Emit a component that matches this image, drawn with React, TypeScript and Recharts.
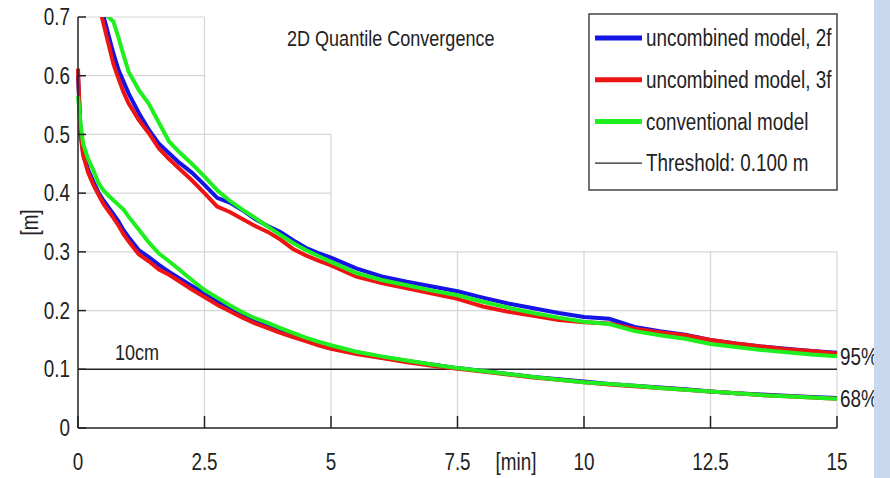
import { LineChart, Line, XAxis, YAxis, ReferenceLine, ReferenceDot, Customized } from "recharts";

const FONT = "'Liberation Sans', Arial, sans-serif";
const NARROW = 0.82; // squeeze Liberation Sans to look like Arial Narrow

// time since start [min]
const minutes = [
  0, 0.05, 0.1, 0.2, 0.3, 0.4, 0.5, 0.6, 0.7, 0.8, 0.9, 1.0,
  1.2, 1.4, 1.6, 1.8, 2.0,
  2.25, 2.5, 2.75, 3.0, 3.25, 3.5, 3.75, 4.0, 4.25, 4.5, 4.75, 5.0,
  5.5, 6.0, 6.5, 7.0, 7.5, 8.0, 8.5, 9.0, 9.5, 10.0, 10.5, 11.0, 11.5, 12.0, 12.5, 13.0, 13.5, 14.0, 14.5, 15.0,
];

// 95% quantile [m]
const blue95 = [
  null, null, null, null, null, null, 0.703, 0.67, 0.638, 0.61, 0.59, 0.57,
  0.537, 0.508, 0.484, 0.468, 0.452,
  0.435, 0.414, 0.392, 0.384, 0.371, 0.356, 0.344, 0.334, 0.32, 0.307, 0.298, 0.29,
  0.272, 0.258, 0.249, 0.241, 0.233, 0.222, 0.212, 0.204, 0.196, 0.189, 0.186, 0.172, 0.165, 0.159, 0.15, 0.144, 0.139, 0.135, 0.131, 0.128,
];
const red95 = [
  null, null, null, null, null, 0.724, 0.69, 0.655, 0.62, 0.595, 0.572, 0.553,
  0.525, 0.502, 0.476, 0.458, 0.442,
  0.422, 0.4, 0.377, 0.368, 0.356, 0.344, 0.334, 0.321, 0.305, 0.294, 0.285, 0.277,
  0.258, 0.247, 0.238, 0.229, 0.22, 0.207, 0.198, 0.191, 0.184, 0.18, 0.178, 0.169, 0.163, 0.158, 0.15, 0.144, 0.139, 0.134, 0.131, 0.127,
];
const green95 = [
  null, null, null, null, null, null, 0.735, 0.7, 0.692, 0.665, 0.635, 0.607,
  0.576, 0.552, 0.52, 0.488, 0.47,
  0.45, 0.428, 0.405, 0.387, 0.372, 0.358, 0.343, 0.329, 0.315, 0.303, 0.293, 0.283,
  0.264, 0.252, 0.243, 0.234, 0.226, 0.215, 0.205, 0.196, 0.188, 0.181, 0.177, 0.165, 0.158, 0.152, 0.143, 0.138, 0.133, 0.129, 0.125, 0.122,
];

// 68% quantile [m]
const blue68 = [
  0.6, 0.505, 0.47, 0.44, 0.42, 0.402, 0.388, 0.376, 0.364, 0.352, 0.337, 0.325,
  0.303, 0.291, 0.278, 0.266, 0.255,
  0.242, 0.229, 0.216, 0.204, 0.193, 0.183, 0.175, 0.167, 0.159, 0.152, 0.145, 0.139,
  0.129, 0.121, 0.114, 0.108, 0.102, 0.097, 0.092, 0.087, 0.083, 0.079, 0.075, 0.072, 0.069, 0.066, 0.062, 0.059, 0.057, 0.055, 0.053, 0.051,
];
const red68 = [
  0.612, 0.5, 0.465, 0.435, 0.415, 0.398, 0.382, 0.37, 0.358, 0.345, 0.33, 0.318,
  0.296, 0.284, 0.27, 0.261, 0.25,
  0.236, 0.223, 0.21, 0.199, 0.188, 0.178, 0.17, 0.162, 0.155, 0.148, 0.141, 0.135,
  0.126, 0.119, 0.112, 0.106, 0.101, 0.096, 0.091, 0.086, 0.082, 0.078, 0.074, 0.071, 0.068, 0.065, 0.062, 0.059, 0.056, 0.054, 0.052, 0.05,
];
const green68 = [
  0.565, 0.52, 0.485, 0.458, 0.44, 0.418, 0.405, 0.396, 0.388, 0.38, 0.372, 0.36,
  0.338, 0.316, 0.297, 0.284, 0.27,
  0.252, 0.235, 0.222, 0.209, 0.197, 0.187, 0.179, 0.17, 0.162, 0.154, 0.147, 0.141,
  0.13, 0.122, 0.115, 0.108, 0.102, 0.097, 0.092, 0.087, 0.082, 0.078, 0.075, 0.072, 0.068, 0.065, 0.062, 0.059, 0.056, 0.054, 0.052, 0.05,
];

const xTicks = [0, 2.5, 5, 7.5, 10, 12.5, 15];
const yTicks = [0, 0.1, 0.2, 0.3, 0.4, 0.5, 0.6, 0.7];
const threshold = 0.1;

// grid only drawn in a staircase (upper right area is empty in the original)
const hGrid = [
  { y: 0.7, to: 2.5 }, { y: 0.6, to: 2.5 }, { y: 0.5, to: 5 }, { y: 0.4, to: 5 },
  { y: 0.3, to: 15 }, { y: 0.2, to: 15 },
];
const vGrid = [
  { x: 2.5, to: 0.7 }, { x: 5, to: 0.5 }, { x: 7.5, to: 0.3 }, { x: 10, to: 0.3 },
  { x: 12.5, to: 0.3 }, { x: 15, to: 0.3 },
];

const BLUE = "#1414e6";
const RED = "#ee1414";
const GREEN = "#1fee1f";
const INK = "#222";

const legendItems = [
  { name: "uncombined model, 2f", color: BLUE, width: 5 },
  { name: "uncombined model, 3f", color: RED, width: 5 },
  { name: "conventional model", color: GREEN, width: 5 },
  { name: "Threshold: 0.100 m", color: INK, width: 1.2 },
];

const data = minutes.map((t, i) => ({
  t,
  blue95: blue95[i], red95: red95[i], green95: green95[i],
  blue68: blue68[i], red68: red68[i], green68: green68[i],
}));

function NText({ x, y, size = 23, anchor = "start", baseline = "central", rotate = 0, children }: any) {
  return (
    <text
      transform={`translate(${x} ${y}) rotate(${rotate}) scale(${NARROW} 1)`}
      x={0}
      y={0}
      fontSize={size}
      fontFamily={FONT}
      fill={INK}
      textAnchor={anchor}
      dominantBaseline={baseline}
    >
      {children}
    </text>
  );
}

function Overlay() {
  return (
    <g>
      <NText x={287} y={38} size={22}>2D Quantile Convergence</NText>
      <rect x={589} y={14} width={248} height={176} fill="#fff" stroke="#444" strokeWidth={1.5} />
      {legendItems.map((it, i) => {
        const y = 38 + i * 41.7;
        return (
          <g key={it.name}>
            <line x1={595} x2={642} y1={y} y2={y} stroke={it.color} strokeWidth={it.width} />
            <NText x={646} y={y}>{it.name}</NText>
          </g>
        );
      })}
    </g>
  );
}

const sideLabel = (txt: string) => (p: any) => <NText x={p.viewBox.x + 3} y={p.viewBox.y}>{txt}</NText>;

export default function App() {
  return (
    <div style={{ position: "absolute", left: 0, top: 0, width: 890, height: 478, background: "#fff" }}>
      <LineChart
        width={890}
        height={478}
        data={data}
        margin={{ top: 17, right: 53, bottom: 10, left: 8 }}
        style={{ fontFamily: FONT }}
      >
        <XAxis
          dataKey="t"
          type="number"
          domain={[0, 15]}
          ticks={xTicks}
          height={40}
          stroke={INK}
          strokeWidth={1.5}
          tickSize={-12}
          tickMargin={38}
          tick={(p: any) => (
            <NText x={p.x} y={p.y + 16} anchor="middle" baseline="alphabetic">{p.payload.value}</NText>
          )}
          label={{
            content: (p: any) => (
              <NText x={p.viewBox.x + 438} y={p.viewBox.y + 42} anchor="middle" baseline="alphabetic">[min]</NText>
            ),
          }}
        />
        <YAxis
          type="number"
          domain={[0, 0.7]}
          allowDataOverflow
          ticks={yTicks}
          width={70}
          stroke={INK}
          strokeWidth={1.5}
          tickSize={-8}
          tickMargin={16}
          tick={(p: any) => (
            <NText x={p.x} y={p.y} anchor="end">{p.payload.value}</NText>
          )}
          label={{
            content: (p: any) => (
              <NText x={30} y={p.viewBox.y + p.viewBox.height * 0.5} anchor="middle" rotate={-90}>[m]</NText>
            ),
          }}
        />
        {hGrid.map((g) => (
          <ReferenceLine key={"h" + g.y} segment={[{ x: 0, y: g.y }, { x: g.to, y: g.y }]} stroke="#d6d6d6" strokeWidth={1.2} />
        ))}
        {vGrid.map((g) => (
          <ReferenceLine key={"v" + g.x} segment={[{ x: g.x, y: 0 }, { x: g.x, y: g.to }]} stroke="#d6d6d6" strokeWidth={1.2} />
        ))}
        <ReferenceLine
          y={threshold}
          stroke={INK}
          strokeWidth={1.5}
          label={{
            content: (p: any) => <NText x={p.viewBox.x + 37} y={p.viewBox.y - 17} size={22}>10cm</NText>,
          }}
        />
        <Line dataKey="blue95" stroke={BLUE} strokeWidth={4} dot={false} isAnimationActive={false} />
        <Line dataKey="red95" stroke={RED} strokeWidth={4} dot={false} isAnimationActive={false} />
        <Line dataKey="green95" stroke={GREEN} strokeWidth={4} dot={false} isAnimationActive={false} />
        <Line dataKey="blue68" stroke={BLUE} strokeWidth={4} dot={false} isAnimationActive={false} />
        <Line dataKey="red68" stroke={RED} strokeWidth={4} dot={false} isAnimationActive={false} />
        <Line dataKey="green68" stroke={GREEN} strokeWidth={4} dot={false} isAnimationActive={false} />
        <ReferenceDot x={15} y={green95[green95.length - 1]} r={0} ifOverflow="visible" label={{ content: sideLabel("95%") }} />
        <ReferenceDot x={15} y={green68[green68.length - 1]} r={0} ifOverflow="visible" label={{ content: sideLabel("68%") }} />
        <Customized component={Overlay} />
      </LineChart>
      <div style={{ position: "absolute", left: 874, top: 0, width: 16, height: 478, background: "#c7d8ef" }} />
    </div>
  );
}
